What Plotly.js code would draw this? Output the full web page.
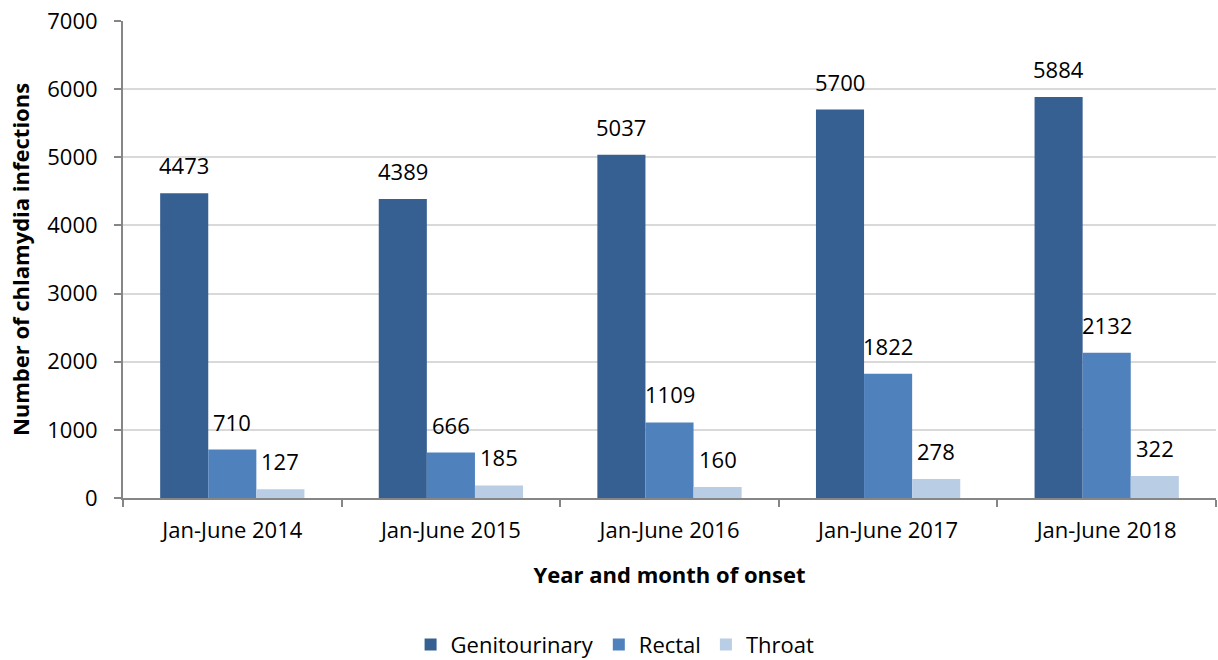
<!DOCTYPE html>
<html>
<head>
<meta charset="utf-8">
<script src="https://cdn.plot.ly/plotly-3.0.1.min.js"></script>
<style>html,body{margin:0;padding:0;background:#fff;}#chart{width:1218px;height:660px;}</style>
</head>
<body>
<div id="chart"></div>
<script>
const categories = ["Jan-June 2014", "Jan-June 2015", "Jan-June 2016", "Jan-June 2017", "Jan-June 2018"];
const genitourinary = [4473, 4389, 5037, 5700, 5884];
const rectal = [710, 666, 1109, 1822, 2132];
const throat = [127, 185, 160, 278, 322];
const seriesNames = ["Genitourinary", "Rectal", "Throat"];
const seriesColors = ["#376092", "#4F81BD", "#B9CDE5"];

const FONT = "'Open Sans', 'Noto Sans', sans-serif";
const allSeries = [genitourinary, rectal, throat];
const bargap = 0.34;

const traces = allSeries.map((vals, i) => ({
  type: "bar",
  name: seriesNames[i],
  x: categories,
  y: vals,
  marker: {color: seriesColors[i], line: {width: 0}},
  hoverinfo: "none"
}));

const barW = (1 - bargap) / 3;
const annotations = [];
allSeries.forEach((vals, s) => {
  vals.forEach((v, c) => {
    annotations.push({
      xref: "x", yref: "y",
      x: c + (s - 1) * barW,
      y: v,
      text: String(v),
      showarrow: false,
      yanchor: "middle",
      yshift: 28,
      font: {family: FONT, size: 22, color: "#000"}
    });
  });
});

const layout = {
  width: 1218, height: 660,
  margin: {l: 123, r: 2, t: 21, b: 162},
  paper_bgcolor: "#fff", plot_bgcolor: "#fff",
  barmode: "group", bargap: bargap, bargroupgap: 0,
  font: {family: FONT, size: 22, color: "#000"},
  showlegend: true,
  legend: {orientation: "h", xref: "container", x: 0.505, xanchor: "center", yref: "container", y: 0.023, yanchor: "middle",
           font: {family: FONT, size: 22, color: "#000"}, traceorder: "normal", itemwidth: 30},
  xaxis: {
    type: "category",
    tickson: "boundaries",
    ticks: "outside", ticklen: 7, tickcolor: "#868686", tickwidth: 2,
    showline: true, linecolor: "#868686", linewidth: 2,
    ticklabelstandoff: 12,
    tickfont: {family: FONT, size: 22, color: "#000"},
    title: {text: "<b>Year and month of onset</b>", font: {family: FONT, size: 22, color: "#000"}, standoff: 24},
    automargin: false,
    fixedrange: true
  },
  yaxis: {
    range: [0, 7000], dtick: 1000, tick0: 0,
    ticks: "outside", ticklen: 7, tickcolor: "#868686", tickwidth: 2,
    showline: true, linecolor: "#868686", linewidth: 2,
    showgrid: true, gridcolor: "#D9D9D9", gridwidth: 2,
    zeroline: false,
    ticklabelstandoff: 12,
    tickfont: {family: FONT, size: 22, color: "#000"},
    title: {text: "<b>Number of chlamydia infections</b>", font: {family: FONT, size: 22, color: "#000"}, standoff: 12},
    automargin: false,
    fixedrange: true
  },
  annotations: annotations
};

Plotly.newPlot("chart", traces, layout, {displayModeBar: false, staticPlot: true});
</script>
</body>
</html>
